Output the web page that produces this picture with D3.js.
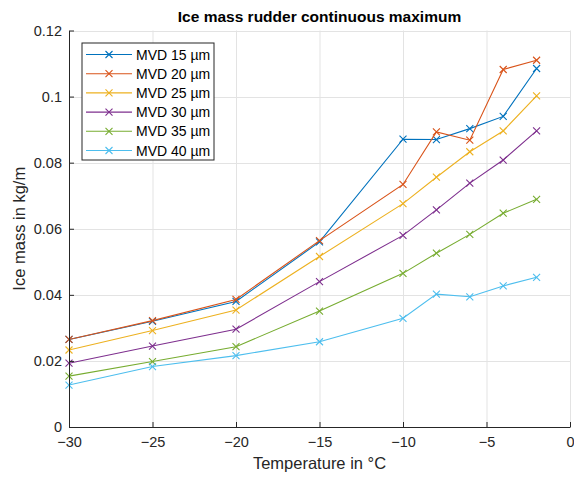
<!DOCTYPE html>
<html>
<head>
<meta charset="utf-8">
<script src="https://cdn.jsdelivr.net/npm/d3@7"></script>
<style>
  html, body { margin: 0; padding: 0; background: #fff; }
  svg { display: block; font-family: "Liberation Sans", Arial, Helvetica, sans-serif; }
</style>
</head>
<body>
<svg id="chart" width="574" height="478"></svg>
<script>
// Temperatures (°C) at which the ice mass was evaluated
const temperatures = [-30, -25, -20, -15, -10, -8, -6, -4, -2];

// Ice mass (kg/m) per median volumetric diameter
const mvd15 = [0.0265, 0.0320, 0.0380, 0.0560, 0.0871, 0.0870, 0.0903, 0.0940, 0.1085];
const mvd20 = [0.0265, 0.0322, 0.0386, 0.0564, 0.0734, 0.0893, 0.0868, 0.1082, 0.1110];
const mvd25 = [0.0233, 0.0292, 0.0354, 0.0516, 0.0676, 0.0756, 0.0833, 0.0896, 0.1002];
const mvd30 = [0.0193, 0.0245, 0.0296, 0.0440, 0.0580, 0.0657, 0.0738, 0.0808, 0.0896];
const mvd35 = [0.0154, 0.0198, 0.0243, 0.0351, 0.0465, 0.0526, 0.0583, 0.0647, 0.0689];
const mvd40 = [0.0127, 0.0183, 0.0216, 0.0258, 0.0329, 0.0402, 0.0394, 0.0427, 0.0453];

const seriesNames = ["MVD 15 µm", "MVD 20 µm", "MVD 25 µm", "MVD 30 µm", "MVD 35 µm", "MVD 40 µm"];
const seriesValues = [mvd15, mvd20, mvd25, mvd30, mvd35, mvd40];
const seriesColors = ["#0072BD", "#D95319", "#EDB120", "#7E2F8E", "#77AC30", "#4DBEEE"];

const xTicks = [-30, -25, -20, -15, -10, -5, 0];
const yTicks = [0, 0.02, 0.04, 0.06, 0.08, 0.1, 0.12];

const svg = d3.select("#chart");
const margin = { left: 69, right: 4, top: 30.5, bottom: 51 };
const W = 574, H = 478;

const x = d3.scaleLinear().domain([-30, 0]).range([margin.left, W - margin.right]);
const y = d3.scaleLinear().domain([0, 0.12]).range([H - margin.bottom, margin.top]);

const axisColor = "#262626";
const gridColor = "#e3e3e3";

// grid
const grid = svg.append("g");
grid.selectAll("line.gx").data(xTicks).join("line")
  .attr("x1", d => x(d) + 0.5).attr("x2", d => x(d) + 0.5)
  .attr("y1", y(0)).attr("y2", y(0.12))
  .attr("stroke", gridColor).attr("stroke-width", 1);
grid.selectAll("line.gy").data(yTicks).join("line")
  .attr("y1", d => Math.round(y(d)) + 0.5).attr("y2", d => Math.round(y(d)) + 0.5)
  .attr("x1", x(-30)).attr("x2", x(0))
  .attr("stroke", gridColor).attr("stroke-width", 1);

// series lines and x markers
const line = d3.line().x((d, i) => x(temperatures[i])).y(d => y(d));
const ms = 3.5;
seriesValues.forEach((vals, s) => {
  const g = svg.append("g");
  g.append("path").datum(vals).attr("d", line)
    .attr("fill", "none").attr("stroke", seriesColors[s]).attr("stroke-width", 1.1);
  g.selectAll("path.m").data(vals).join("path")
    .attr("d", (d, i) => {
      const cx = x(temperatures[i]), cy = y(d);
      return `M${cx - ms},${cy - ms}L${cx + ms},${cy + ms}M${cx - ms},${cy + ms}L${cx + ms},${cy - ms}`;
    })
    .attr("stroke", seriesColors[s]).attr("stroke-width", 1.1).attr("fill", "none");
});

// axes
const xAxis = d3.axisBottom(x).tickValues(xTicks).tickSizeInner(-5).tickSizeOuter(0)
  .tickPadding(10).tickFormat(d3.format("d"));
const gx = svg.append("g").attr("transform", `translate(0,${y(0)})`).call(xAxis);
const yAxis = d3.axisLeft(y).tickValues(yTicks).tickSizeInner(-5).tickSizeOuter(0)
  .tickPadding(7).tickFormat(d => d === 0 ? "0" : String(+d.toFixed(2)));
const gy = svg.append("g").attr("transform", `translate(${x(-30)},0)`).call(yAxis);
[gx, gy].forEach(g => {
  g.select(".domain").attr("stroke", axisColor);
  g.selectAll(".tick line").attr("stroke", axisColor);
  g.selectAll(".tick text").attr("fill", axisColor).attr("font-size", 14.5)
    .attr("font-family", "'Liberation Sans', Arial, sans-serif");
});

// title and axis labels
svg.append("text").attr("x", (x(-30) + x(0)) / 2).attr("y", 22)
  .attr("text-anchor", "middle").attr("font-weight", "bold").attr("font-size", 15.5)
  .attr("fill", "#000").text("Ice mass rudder continuous maximum");
svg.append("text").attr("x", (x(-30) + x(0)) / 2).attr("y", 469)
  .attr("text-anchor", "middle").attr("font-size", 16.5).attr("fill", axisColor)
  .text("Temperature in °C");
svg.append("text").attr("transform", `translate(25,${(y(0) + y(0.12)) / 2}) rotate(-90)`)
  .attr("text-anchor", "middle").attr("font-size", 16.5).attr("fill", axisColor)
  .text("Ice mass in kg/m");

// legend
const lg = svg.append("g").attr("transform", "translate(82,43)");
lg.append("rect").attr("x", 0).attr("y", 0).attr("width", 132).attr("height", 117)
  .attr("fill", "#fff").attr("stroke", axisColor).attr("stroke-width", 1);
seriesNames.forEach((name, s) => {
  const cy = 11.5 + s * 19.2;
  lg.append("line").attr("x1", 4).attr("x2", 50).attr("y1", cy).attr("y2", cy)
    .attr("stroke", seriesColors[s]).attr("stroke-width", 1.1);
  lg.append("path")
    .attr("d", `M${27 - ms},${cy - ms}L${27 + ms},${cy + ms}M${27 - ms},${cy + ms}L${27 + ms},${cy - ms}`)
    .attr("stroke", seriesColors[s]).attr("stroke-width", 1.1);
  lg.append("text").attr("x", 54).attr("y", cy + 5).attr("font-size", 14)
    .attr("fill", "#000").text(name);
});
</script>
</body>
</html>
